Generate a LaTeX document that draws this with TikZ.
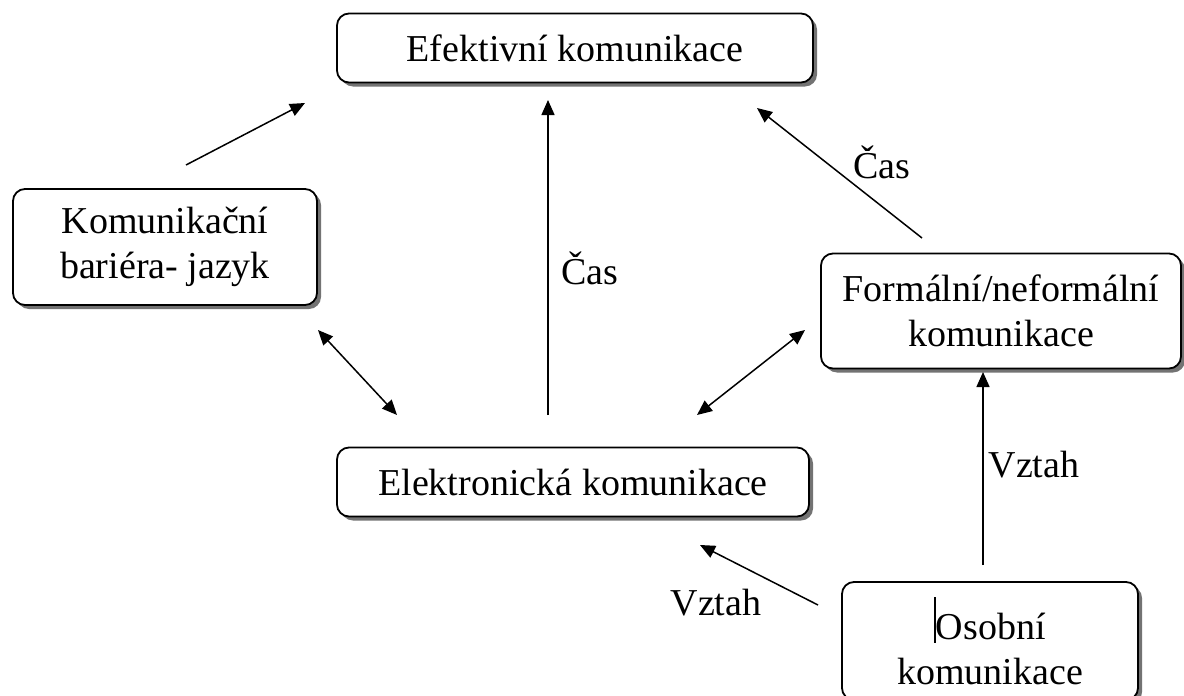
\documentclass[tikz,border=0pt]{standalone}
\usepackage{fontspec}
\setmainfont{Liberation Serif}
\usetikzlibrary{arrows.meta,shadows}
\tikzset{
  box/.style={rectangle, rounded corners=6pt, draw=black, fill=white,
              line width=0.9pt, align=center, inner sep=2pt,
              drop shadow={shadow xshift=2pt, shadow yshift=-2pt, fill=black!55, opacity=1},
              font=\fontsize{19}{22.5}\selectfont},
  arr/.style={-{Triangle[length=7.5pt,width=6.5pt]}, line width=0.75pt},
  darr/.style={{Triangle[length=7.5pt,width=6.5pt]}-{Triangle[length=7.5pt,width=6.5pt]}, line width=0.75pt},
  lbl/.style={font=\fontsize{19}{22}\selectfont, inner sep=0pt},
}
\begin{document}
\begin{tikzpicture}[x=0.5pt,y=-0.5pt]
  \useasboundingbox (0,0) rectangle (1184,696);

  % boxes
  \node[box, minimum width=238pt, minimum height=34.5pt] (eff) at (575,48) {Efektivní komunikace};
  \node[box, minimum width=152pt, minimum height=58pt] (bar) at (165,247) {Komunikační\\bariéra- jazyk};
  \node[box, minimum width=180pt, minimum height=57.5pt] (form) at (1001,311) {Formální/neformální\\komunikace};
  \node[box, minimum width=236pt, minimum height=34.5pt] (elek) at (573,482) {Elektronická komunikace};
  \node[box, minimum width=148pt, minimum height=59pt] (oso) at (990,641)
    {\rule[-0.2ex]{0.7pt}{2.6ex}Osobní\\komunikace};

  % arrow ends
  \coordinate (a1) at (186,165);  \coordinate (b1) at (305,103);
  \coordinate (a2) at (548,415);  \coordinate (b2) at (548,100);
  \coordinate (a3) at (922,238);  \coordinate (b3) at (757,108);
  \coordinate (a4) at (318,330);  \coordinate (b4) at (397,415);
  \coordinate (a5) at (805,330);  \coordinate (b5) at (697,415);
  \coordinate (a6) at (983,565);  \coordinate (b6) at (983,372);
  \coordinate (a7) at (818,605);  \coordinate (b7) at (700,545);

  % connectors
  \draw[arr] (a1) -- (b1);
  \draw[arr] (a2) -- (b2);
  \draw[arr] (a3) -- (b3);
  \draw[darr] (a4) -- (b4);
  \draw[darr] (a5) -- (b5);
  \draw[arr] (a6) -- (b6);
  \draw[arr] (a7) -- (b7);

  % labels
  \node[lbl] (cas1) at (590,268) {Čas};
  \node[lbl] (cas2) at (882,162) {Čas};
  \node[lbl] (vz1) at (1034,465) {Vztah};
  \node[lbl] (vz2) at (716,603) {Vztah};
\end{tikzpicture}
\end{document}
